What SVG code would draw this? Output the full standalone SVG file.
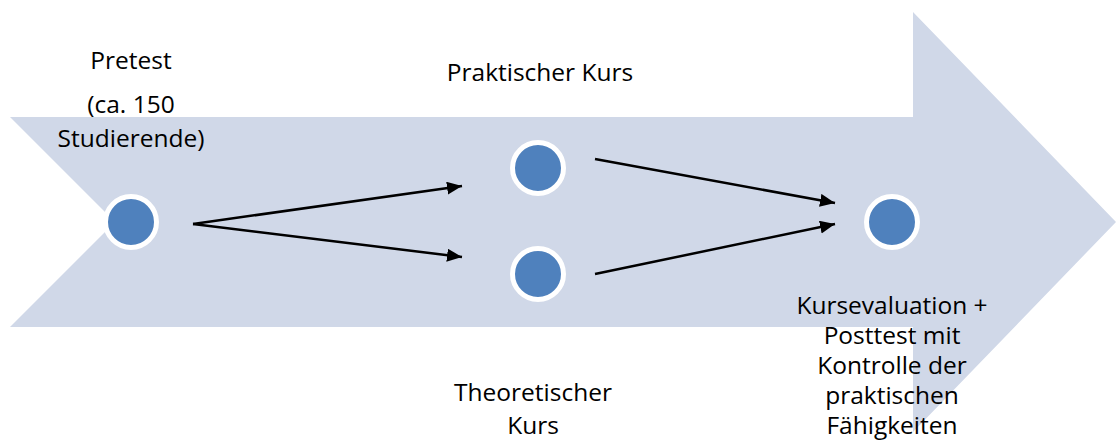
<svg xmlns="http://www.w3.org/2000/svg" width="1116" height="448" viewBox="0 0 1116 448">
  <style>
    .bg { fill: #D0D8E8; }
    .dot { fill: #4F81BD; stroke: #FFFFFF; stroke-width: 5; }
    .lbl { font-family: "Open Sans", "Liberation Sans", sans-serif; font-size: 24.5px; fill: #000000; text-anchor: middle; }
    .conn { stroke: #000000; stroke-width: 2.5; fill: none; marker-end: url(#ah); }
  </style>
  <defs>
    <marker id="ah" markerUnits="userSpaceOnUse" markerWidth="16" markerHeight="14" refX="15" refY="6.5" orient="auto">
      <path d="M0,0 L15,6.5 L0,13 Z" fill="#000000"/>
    </marker>
  </defs>
  <g id="big-arrow">
    <path class="bg" d="M10,117 L913,117 L913,12 L1116,222 L913,432 L913,327 L10,327 L115,222 Z"/>
  </g>
  <g id="connectors">
    <line class="conn" x1="193" y1="224" x2="462" y2="186"/>
    <line class="conn" x1="193" y1="224" x2="462" y2="257"/>
    <line class="conn" x1="595" y1="159" x2="835" y2="203"/>
    <line class="conn" x1="595" y1="274" x2="835" y2="224"/>
  </g>
  <g id="node-pretest">
    <circle class="dot" cx="131" cy="222" r="25.5"/>
    <text class="lbl" x="131" y="69">Pretest</text>
    <text class="lbl" x="131" y="113">(ca. 150</text>
    <text class="lbl" x="131" y="147">Studierende)</text>
  </g>
  <g id="node-praktisch">
    <circle class="dot" cx="538" cy="168" r="25.5"/>
    <text class="lbl" x="540" y="81">Praktischer Kurs</text>
  </g>
  <g id="node-theoretisch">
    <circle class="dot" cx="538" cy="274" r="25.5"/>
    <text class="lbl" x="533" y="401">Theoretischer</text>
    <text class="lbl" x="533" y="434">Kurs</text>
  </g>
  <g id="node-posttest">
    <circle class="dot" cx="892" cy="222" r="25.5"/>
    <text class="lbl" x="892" y="314">Kursevaluation +</text>
    <text class="lbl" x="892" y="344">Posttest mit</text>
    <text class="lbl" x="892" y="374">Kontrolle der</text>
    <text class="lbl" x="892" y="404">praktischen</text>
    <text class="lbl" x="892" y="434">Fähigkeiten</text>
  </g>
</svg>
